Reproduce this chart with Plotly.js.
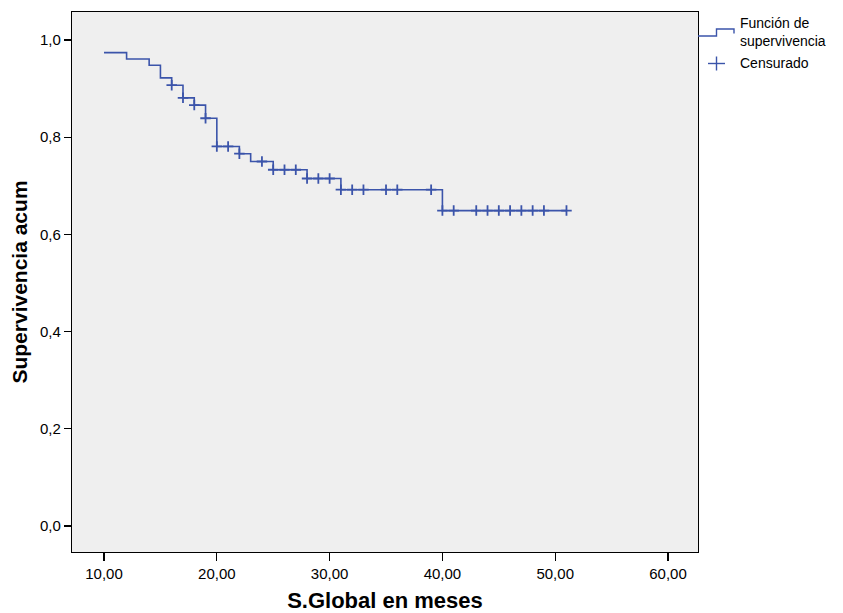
<!DOCTYPE html>
<html>
<head>
<meta charset="utf-8">
<script src="https://cdn.plot.ly/plotly-3.0.1.min.js"></script>
<style>html,body{margin:0;padding:0;background:#fff;}#chart{width:843px;height:613px;}</style>
</head>
<body>
<div id="chart"></div>
<script>
// Event times (months) and cumulative survival after each event
var eventTimes = [10, 12, 14, 15, 16, 17, 18, 19, 20, 22, 23, 25, 28, 31, 40];
var survival   = [0.974, 0.961, 0.948, 0.922, 0.907, 0.881, 0.866, 0.839, 0.781, 0.766, 0.750, 0.733, 0.715, 0.692, 0.649];
// Last follow-up time (end of curve)
var lastTime = 51;
// Censored observations
var censorTimes = [16, 17, 18, 19, 20, 21, 22, 24, 25, 26, 27, 28, 29, 30, 31, 32, 33, 35, 36, 39, 40, 41, 43, 44, 45, 46, 47, 48, 49, 51];
var censorSurv  = [0.907, 0.881, 0.866, 0.839, 0.781, 0.781, 0.766, 0.750, 0.733, 0.733, 0.733, 0.715, 0.715, 0.715, 0.692, 0.692, 0.692, 0.692, 0.692, 0.692, 0.649, 0.649, 0.649, 0.649, 0.649, 0.649, 0.649, 0.649, 0.649, 0.649];
// Texts
var xTitle = "S.Global en meses";
var yTitle = "Supervivencia acum";
var legendSurv = "Función de<br>supervivencia";
var legendCens = "Censurado";

var blue = "#3b54aa";
var FONT = "Liberation Sans, Arial, sans-serif";

var stepX = eventTimes.concat([lastTime]);
var stepY = survival.concat([survival[survival.length - 1]]);

var traces = [
  {x: stepX, y: stepY, mode: "lines", line: {shape: "hv", color: blue, width: 1.6}, showlegend: false, hoverinfo: "skip"},
  {x: censorTimes, y: censorSurv, mode: "markers", showlegend: false,
   marker: {symbol: "cross-thin-open", size: 7.5, color: blue, line: {color: blue, width: 1.8}}}
];

// plot area in pixels
var L = 72, R = 698, T = 12, B = 552, W = 843, H = 613;
function px(x) { return (x - L) / (R - L); }
function py(y) { return (B - y) / (B - T); }

var shapes = [
  {type: "path", xref: "paper", yref: "paper",
   path: "M " + px(698) + " " + py(36) + " L " + px(716.5) + " " + py(36) + " L " + px(716.5) + " " + py(29) + " L " + px(734) + " " + py(29) + " L " + px(734) + " " + py(33.5),
   line: {color: blue, width: 1.4}},
  {type: "line", xref: "paper", yref: "paper", x0: px(708), x1: px(725), y0: py(63.5), y1: py(63.5), line: {color: blue, width: 1.4}},
  {type: "line", xref: "paper", yref: "paper", x0: px(716.5), x1: px(716.5), y0: py(56.5), y1: py(70.5), line: {color: blue, width: 1.4}}
];

var annotations = [
  {xref: "paper", yref: "paper", x: px(738), y: py(32), xanchor: "left", yanchor: "middle", align: "left",
   text: legendSurv, showarrow: false, font: {family: FONT, size: 14, color: "#000"}},
  {xref: "paper", yref: "paper", x: px(738), y: py(63.5), xanchor: "left", yanchor: "middle", align: "left",
   text: legendCens, showarrow: false, font: {family: FONT, size: 14, color: "#000"}}
];

var layout = {
  width: W, height: H,
  margin: {l: L, r: W - R, t: T, b: H - B, pad: 0},
  paper_bgcolor: "#ffffff",
  plot_bgcolor: "#efefef",
  separators: ", ",
  font: {family: FONT, size: 14, color: "#000"},
  showlegend: false,
  xaxis: {
    range: [7.16, 62.66], tickmode: "linear", tick0: 10, dtick: 10, tickformat: ".2f",
    showgrid: false, zeroline: false, showline: true, mirror: true, linecolor: "#000", linewidth: 1.2,
    ticks: "outside", ticklen: 8, tickwidth: 1.2, tickcolor: "#000",
    tickfont: {family: FONT, size: 15, color: "#000"},
    title: {text: xTitle, font: {family: FONT, size: 22, color: "#000", weight: "bold"}, standoff: 12}
  },
  yaxis: {
    range: [-0.0535, 1.0576], tickmode: "linear", tick0: 0, dtick: 0.2, tickformat: ".1f",
    showgrid: false, zeroline: false, showline: true, mirror: true, linecolor: "#000", linewidth: 1.2,
    ticks: "outside", ticklen: 7, tickwidth: 1.2, tickcolor: "#000",
    tickfont: {family: FONT, size: 15, color: "#000"},
    title: {text: yTitle, font: {family: FONT, size: 21, color: "#000", weight: "bold"}, standoff: 6}
  },
  shapes: shapes,
  annotations: annotations
};

Plotly.newPlot("chart", traces, layout, {displayModeBar: false, staticPlot: true});
</script>
</body>
</html>
